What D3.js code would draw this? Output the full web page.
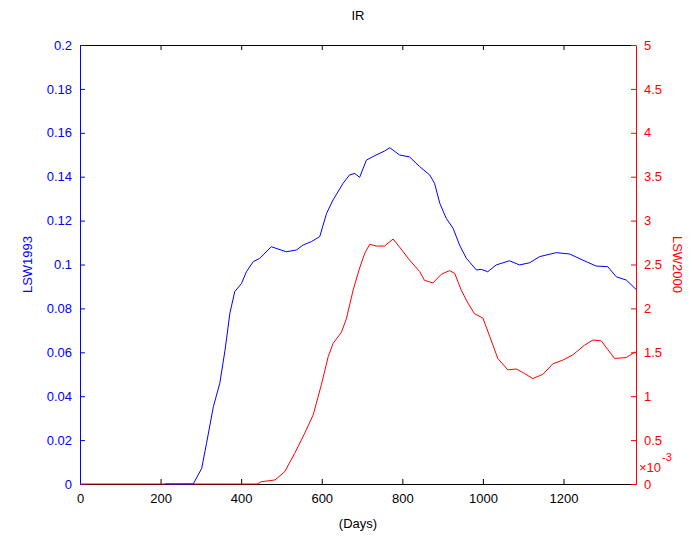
<!DOCTYPE html>
<html>
<head>
<meta charset="utf-8">
<script src="https://d3js.org/d3.v7.min.js"></script>
<style>
  body { margin: 0; background: #fff; }
  text { font-family: 'Liberation Sans', Arial, sans-serif; }
</style>
</head>
<body>
<div id="chart"></div>
<script>
// days and values
const daysBlue = [211, 281, 302, 314, 331, 347, 360, 372, 384, 401, 413, 430, 446, 475, 512, 537, 554, 574, 595, 612, 628, 653, 669, 682, 694, 711, 735, 756, 769, 793, 818, 843, 868, 880, 893, 909, 926, 942, 959, 984, 996, 1012, 1033, 1066, 1091, 1116, 1141, 1182, 1215, 1248, 1281, 1310, 1331, 1356, 1380]
const lsw1993 = [0, 0, 0.0071, 0.0185, 0.0352, 0.0459, 0.061, 0.0778, 0.0876, 0.0914, 0.0967, 0.1013, 0.1028, 0.1081, 0.1058, 0.1066, 0.1089, 0.1104, 0.1127, 0.1233, 0.1294, 0.137, 0.1408, 0.1415, 0.1397, 0.1476, 0.1499, 0.1517, 0.1532, 0.1499, 0.149, 0.1446, 0.1408, 0.137, 0.1279, 0.121, 0.1165, 0.1089, 0.1028, 0.0975, 0.0978, 0.0967, 0.0998, 0.1017, 0.0998, 0.1008, 0.1036, 0.1054, 0.1048, 0.102, 0.0993, 0.099, 0.0944, 0.0929, 0.0887]

const daysRed = [0, 440, 450, 484, 508, 533, 558, 579, 599, 616, 628, 649, 661, 678, 694, 707, 719, 736, 756, 777, 793, 818, 843, 855, 876, 897, 917, 930, 946, 963, 979, 1000, 1017, 1037, 1062, 1083, 1103, 1124, 1149, 1174, 1198, 1223, 1252, 1273, 1294, 1310, 1327, 1356, 1376, 1380]
// LSW2000 in units of 1e-3
const lsw2000 = [0, 0, 0.026, 0.046, 0.14, 0.35, 0.58, 0.79, 1.13, 1.45, 1.6, 1.73, 1.88, 2.21, 2.46, 2.63, 2.73, 2.71, 2.71, 2.79, 2.7, 2.55, 2.42, 2.32, 2.29, 2.39, 2.43, 2.4, 2.21, 2.06, 1.94, 1.89, 1.68, 1.43, 1.3, 1.31, 1.26, 1.2, 1.25, 1.37, 1.41, 1.47, 1.58, 1.64, 1.63, 1.53, 1.43, 1.44, 1.5, 1.5]

const xTicks = [0, 200, 400, 600, 800, 1000, 1200]
const leftTicks = [0, 0.02, 0.04, 0.06, 0.08, 0.1, 0.12, 0.14, 0.16, 0.18, 0.2]
const rightTicks = [0, 0.5, 1, 1.5, 2, 2.5, 3, 3.5, 4, 4.5, 5]

const W = 692, H = 538
const margin = { top: 45, right: 56, bottom: 54, left: 80 }
const width = W - margin.left - margin.right
const height = H - margin.top - margin.bottom

const svg = d3.select('#chart').append('svg')
  .attr('width', W).attr('height', H)

const g = svg.append('g')
  .attr('transform', 'translate(' + margin.left + ',' + margin.top + ')')

const x = d3.scaleLinear().domain([0, 1380]).range([0, width])
const yL = d3.scaleLinear().domain([0, 0.2]).range([height, 0])
const yR = d3.scaleLinear().domain([0, 5]).range([height, 0])

// box top
g.append('line').attr('x1', 0).attr('x2', width).attr('y1', 0.5).attr('y2', 0.5).attr('stroke', '#000')

// bottom axis
const xb = g.append('g').attr('transform', 'translate(0,' + height + ')')
  .call(d3.axisBottom(x).tickValues(xTicks).tickSize(-5).tickPadding(10).tickFormat(d3.format('d')))
xb.select('.domain').attr('stroke', '#000')
xb.selectAll('text').attr('font-size', 13).attr('fill', '#000')

// top ticks
g.append('g')
  .call(d3.axisTop(x).tickValues(xTicks).tickSize(-5).tickFormat(''))
  .select('.domain').remove()

// left axis
const yl = g.append('g')
  .call(d3.axisLeft(yL).tickValues(leftTicks).tickSize(-5).tickPadding(8).tickFormat(d => d3.format('')(d)))
yl.selectAll('.domain, line').attr('stroke', '#0000ff')
yl.selectAll('text').attr('font-size', 13).attr('fill', '#0000ff')

// right axis
const yr = g.append('g').attr('transform', 'translate(' + width + ',0)')
  .call(d3.axisRight(yR).tickValues(rightTicks).tickSize(-5).tickPadding(8).tickFormat(d => d3.format('')(d)))
yr.selectAll('.domain, line').attr('stroke', '#ff0000')
yr.selectAll('text').attr('font-size', 13).attr('fill', '#ff0000')

// lines
const lineR = d3.line().x((d, i) => x(daysRed[i])).y(d => yR(d))
const lineL = d3.line().x((d, i) => x(daysBlue[i])).y(d => yL(d))

g.append('path').datum(lsw2000).attr('d', lineR)
  .attr('fill', 'none').attr('stroke', '#ff0000').attr('stroke-width', 1)
g.append('path').datum(lsw1993).attr('d', lineL)
  .attr('fill', 'none').attr('stroke', '#0000ff').attr('stroke-width', 1)

// exponent label
const ex = g.append('text').attr('x', width + 3).attr('y', height - 12)
  .attr('font-size', 13).attr('fill', '#ff0000')
ex.append('tspan').text('\u00d710')
ex.append('tspan').attr('dx', 1).attr('dy', -11).attr('font-size', 11).text('-3')

// titles
svg.append('text').attr('x', margin.left + width / 2).attr('y', 20)
  .attr('text-anchor', 'middle').attr('font-size', 13).attr('fill', '#000').text('IR')
svg.append('text').attr('x', margin.left + width / 2).attr('y', 528)
  .attr('text-anchor', 'middle').attr('font-size', 13).attr('fill', '#000').text('(Days)')
svg.append('text').attr('transform', 'translate(32,' + (margin.top + height / 2) + ') rotate(-90)')
  .attr('text-anchor', 'middle').attr('font-size', 13).attr('fill', '#0000ff').text('LSW1993')
svg.append('text').attr('transform', 'translate(673,' + (margin.top + height / 2) + ') rotate(90)')
  .attr('text-anchor', 'middle').attr('font-size', 13).attr('fill', '#ff0000').text('LSW2000')
</script>
</body>
</html>
